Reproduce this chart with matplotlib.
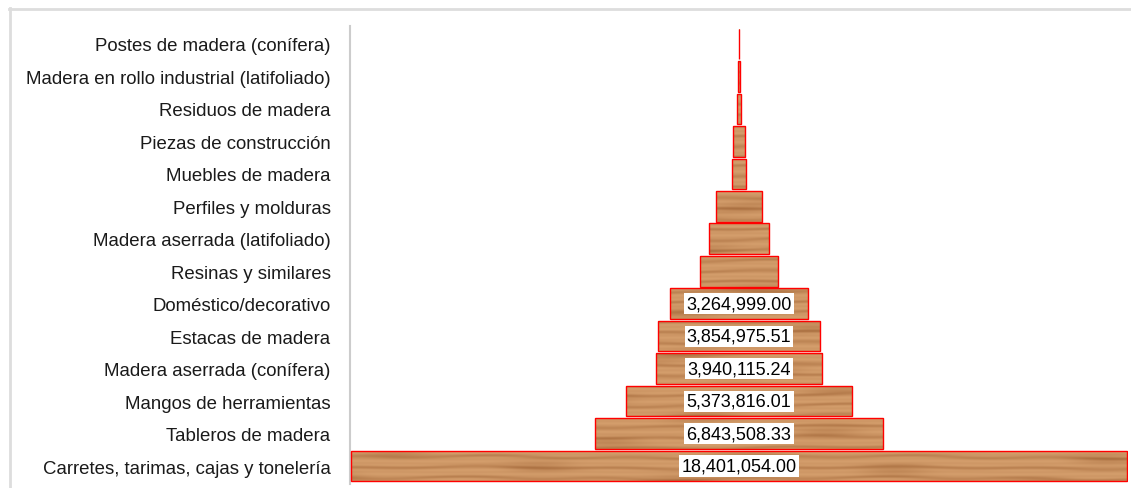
import matplotlib
matplotlib.use("Agg")
import matplotlib.pyplot as plt
from matplotlib.lines import Line2D
import numpy as np

plt.rcParams['font.family'] = ['Liberation Sans', 'DejaVu Sans']

# datos (de abajo hacia arriba)
categorias = [
    "Carretes, tarimas, cajas y tonelería",
    "Tableros de madera",
    "Mangos de herramientas",
    "Madera aserrada (conífera)",
    "Estacas de madera",
    "Doméstico/decorativo",
    "Resinas y similares",
    "Madera aserrada (latifoliado)",
    "Perfiles y molduras",
    "Muebles de madera",
    "Piezas de construcción",
    "Residuos de madera",
    "Madera en rollo industrial (latifoliado)",
    "Postes de madera (conífera)",
]
valores = [
    18401054.00, 6843508.33, 5373816.01, 3940115.24, 3854975.51, 3264999.00,
    1850000, 1400000, 1090000, 340000, 300000, 90000, 45000, 18000,
]
umbral_etiqueta = 3000000

# textura de madera (vetas horizontales con manchas)
h, w = 480, 800
yy, xx = np.mgrid[0:h, 0:w].astype(float)
veta = np.sin(2 * np.pi * yy / 11.0 + 0.6 * np.sin(xx / 70.0) + 0.5 * np.sin(xx / 23.0 + yy / 17.0))
veta2 = np.sin(2 * np.pi * yy / 4.5 + 0.4 * np.sin(xx / 31.0 + 1.3))
manchas = np.sin(xx / 38.0 + 1.5 * np.sin(yy / 29.0)) * np.sin(yy / 7.0 + xx / 140.0)
g = 0.5 * (0.5 + 0.5 * veta) ** 4 + 0.15 * (0.5 + 0.5 * veta2) + 0.35 * np.clip(manchas, 0, 1) ** 2
claro = np.array([212, 158, 108]) / 255.0
oscuro = np.array([158, 98, 52]) / 255.0
tex = claro[None, None, :] * (1 - g[..., None] * 0.8) + oscuro[None, None, :] * (g[..., None] * 0.8)

fig = plt.figure(figsize=(11.31, 4.89), dpi=100)
ax = fig.add_axes([350 / 1131, 4 / 489, 778 / 1131, 458 / 489])

n = len(categorias)
y = np.arange(n)
vmax = max(valores)
izq = [-v / 2 for v in valores]
barras = ax.barh(y, valores, left=izq, height=0.94, color='#c8915e',
                 edgecolor='red', linewidth=1.0, zorder=2)

ext = (-vmax / 2, vmax / 2, -0.5, n - 0.5)
for b in barras:
    im = ax.imshow(tex, extent=ext, aspect='auto', zorder=2.5, interpolation='bilinear')
    im.set_clip_path(b)
    b.set_facecolor('none')
    b.set_zorder(3)

for i, v in enumerate(valores):
    if v >= umbral_etiqueta:
        ax.text(0, i, f"{v:,.2f}", ha='center', va='center', fontsize=13, zorder=4,
                bbox=dict(facecolor='white', edgecolor='none', pad=1.5))

ax.set_xlim(-vmax / 2 * 1.002, vmax / 2 * 1.002)
ax.set_ylim(-0.55, n - 0.45)
ax.set_yticks(y)
ax.set_yticklabels(categorias, fontsize=13.4, color='#1a1a1a')
ax.tick_params(axis='y', length=0, pad=14)
ax.set_xticks([])
for s in ['top', 'right', 'bottom']:
    ax.spines[s].set_visible(False)
ax.spines['left'].set_color('#cccccc')
ax.spines['left'].set_linewidth(1.5)

# marco de la figura
fig.add_artist(Line2D([9 / 1131, 1], [1 - 10 / 489, 1 - 10 / 489], color='#dddddd', linewidth=2))
fig.add_artist(Line2D([10 / 1131, 10 / 1131], [0, 1 - 9 / 489], color='#dddddd', linewidth=2))

fig.savefig("out.png", dpi=100)
